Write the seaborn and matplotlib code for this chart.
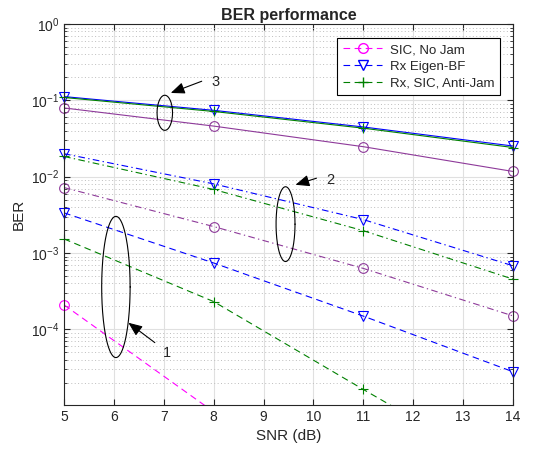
import numpy as np
import pandas as pd
import matplotlib
matplotlib.use("Agg")
import matplotlib.pyplot as plt
import seaborn as sns

# SNR points (dB)
snr = [5, 8, 11, 14]

# group 3 (solid)
ber_sic_3 = [0.0795, 0.046, 0.0247, 0.0117]
ber_eig_3 = [0.112, 0.074, 0.0448, 0.0252]
ber_aj_3 = [0.109, 0.0715, 0.0432, 0.0241]

# group 2 (dash-dot)
ber_sic_2 = [0.0072, 0.00222, 0.000628, 0.00015]
ber_eig_2 = [0.020, 0.00805, 0.00274, 0.00068]
ber_aj_2 = [0.0184, 0.0068, 0.00196, 0.000455]

# group 1 (dashed)
ber_sic_1 = [0.000209, 8.3e-6, 3e-7, 1e-8]
ber_eig_1 = [0.00336, 0.00074, 0.000149, 2.78e-5]
ber_aj_1 = [0.00153, 0.000231, 1.63e-5, 1.2e-6]

legend_labels = ["SIC, No Jam", "Rx Eigen-BF", "Rx, SIC, Anti-Jam"]

YMIN = 1.02e-5

sns.set_style("ticks")
plt.rcParams["font.family"] = ["Liberation Sans", "DejaVu Sans"]
plt.rcParams["mathtext.fontset"] = "custom"
plt.rcParams["mathtext.rm"] = "Liberation Sans"
plt.rcParams["mathtext.it"] = "Liberation Sans:italic"

fig = plt.figure(figsize=(5.43, 4.54), dpi=100)
ax = fig.add_axes([0.1179, 0.1079, 0.8269, 0.8392])

magenta = "#FF00FF"
purple = "#8E3A9A"
blue = "#0000FF"
green = "#008000"

solid = "-"
dashdot = (0, (6, 3, 1.2, 3))
dashed = (0, (6, 4))

series = [
    (ber_eig_3, blue, solid, "v"),
    (ber_aj_3, green, solid, "+"),
    (ber_sic_3, purple, solid, "o"),
    (ber_eig_2, blue, dashdot, "v"),
    (ber_aj_2, green, dashdot, "+"),
    (ber_sic_2, purple, dashdot, "o"),
    (ber_sic_1, magenta, dashed, "o"),
    (ber_eig_1, blue, dashed, "v"),
    (ber_aj_1, green, dashed, "+"),
]

for vals, col, ls, mk in series:
    df = pd.DataFrame({"snr": snr, "ber": vals})
    sns.lineplot(data=df, x="snr", y="ber", ax=ax, color=col, linestyle=ls,
                 linewidth=0.8, legend=False)
    # markers are not clipped at the axes edges (MATLAB style)
    vis = df[df["ber"] >= YMIN]
    sns.lineplot(data=vis, x="snr", y="ber", ax=ax, color=col, linestyle="none",
                 marker=mk, markersize=7, markerfacecolor="none",
                 markeredgecolor=col, markeredgewidth=0.8, legend=False, clip_on=False)

ax.set_yscale("log")
ax.set_xlim(5, 14)
ax.set_ylim(YMIN, 1)
ax.set_xticks(range(5, 15))
ax.set_yticks([1e-4, 1e-3, 1e-2, 1e-1, 1e0])

ax.grid(True, which="major", color="#E0E0E0", linewidth=0.8)
ax.grid(True, which="minor", axis="y", color="#BDBDBD", linestyle=(0, (1, 2.5)), linewidth=0.7)
ax.set_axisbelow(True)
ax.tick_params(which="both", direction="in", top=True, right=True, labelsize=10)
ax.tick_params(which="major", length=4)
ax.tick_params(which="minor", length=2)
for s in ax.spines.values():
    s.set_linewidth(0.8)
    s.set_color("#262626")

ax.set_title("BER performance", fontsize=11.5, fontweight="bold", pad=3)
ax.set_xlabel("SNR (dB)", fontsize=11)
ax.set_ylabel("BER", fontsize=11)

# ellipses marking the groups (center x, center y, half width, half height in decades)
ellipses = [(7.02, 0.0687, 0.155, 0.23), (9.44, 0.00239, 0.19, 0.49), (6.04, 0.000359, 0.285, 0.925)]
t = np.linspace(0, 2 * np.pi, 200)
for cx, cy, a, b in ellipses:
    ax.plot(cx + a * np.cos(t), 10 ** (np.log10(cy) + b * np.sin(t)), color="black", linewidth=0.8)

arrows = [("3", (7.14, 0.125), (7.76, 0.178), (7.95, 0.174)),
          ("2", (9.64, 0.00783), (10.06, 0.00955), (10.26, 0.0091)),
          ("1", (6.29, 0.000122), (6.82, 6.7e-5), (6.99, 4.85e-5))]
for lab, head, tail, tpos in arrows:
    ax.annotate("", xy=head, xytext=tail,
                arrowprops=dict(arrowstyle="-|>,head_length=0.6,head_width=0.25",
                                color="black", lw=0.8, mutation_scale=14, shrinkA=0, shrinkB=0))
    ax.text(tpos[0], tpos[1], lab, fontsize=10.5, va="center", ha="left")

handles = [
    plt.Line2D([], [], color=c, linestyle=dashed, linewidth=0.8, marker=m, markersize=7,
               markerfacecolor="none", markeredgecolor=c)
    for c, m in [(magenta, "o"), (blue, "v"), (green, "+")]
]
leg = ax.legend(handles, legend_labels, loc="upper right", bbox_to_anchor=(0.971, 0.962),
                borderaxespad=0, fontsize=9.5, fancybox=False, edgecolor="black", framealpha=1,
                handlelength=3, borderpad=0.4, labelspacing=0.35, handletextpad=0.6)
leg.get_frame().set_linewidth(0.8)

fig.savefig("out.png", dpi=100)
